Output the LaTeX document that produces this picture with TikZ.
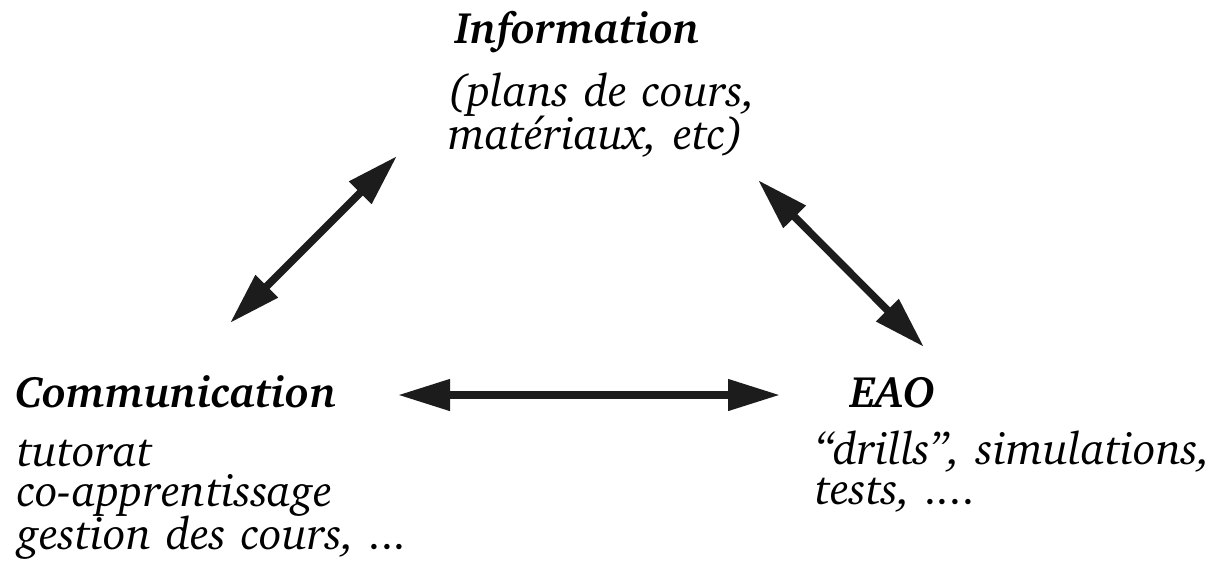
\documentclass[tikz,border=0pt]{standalone}
\usepackage[T1]{fontenc}
\usepackage{charter}
\usetikzlibrary{arrows.meta,positioning}
\setlength{\lineskiplimit}{-100pt}

\begin{document}
\begin{tikzpicture}[x=1pt, y=-1pt]
  % definition des styles
  \tikzset{
   titre/.style={
           inner sep=0pt,
           anchor=base west,
           font=\fontsize{44}{40}\selectfont\bfseries\itshape},
   texte/.style={
           inner sep=0pt,
           anchor=base west,
           text width=420pt,
           align=left,
           font=\fontsize{45.5}{40}\selectfont\itshape},
    % Define arrow style
    fleche/.style={
           {Triangle[length=52pt,width=30pt]}-{Triangle[length=52pt,width=30pt]},
           line width=7.5pt,
           color=black!89}
    }
  \useasboundingbox (0,0) rectangle (1220,563);

  % Textes
  \node[titre] (info) at (455,43) {Information};
  \node[texte] (infotxt) at (448,106) {(plans de cours,\\matériaux, etc)};
  \node[titre] (comm) at (15,407) {Communication};
  \node[texte] (commtxt) at (17,466) {tutorat\\co-apprentissage\\gestion des cours, ...};
  \node[titre] (eao) at (850,407) {EAO};
  \node[texte] (eaotxt) at (815,464) {``drills'', simulations,\\tests, ....};

  % Extremites des fleches
  \coordinate (infoG) at (397,156);
  \coordinate (commH) at (230,323);
  \coordinate (infoD) at (758,180);
  \coordinate (eaoH) at (924,347);
  \coordinate (commD) at (398,395);
  \coordinate (eaoG) at (780,395);

  \draw[fleche] (commH)--(infoG);
  \draw[fleche] (infoD)--(eaoH);
  \draw[fleche] (commD)--(eaoG);
\end{tikzpicture}
\end{document}
